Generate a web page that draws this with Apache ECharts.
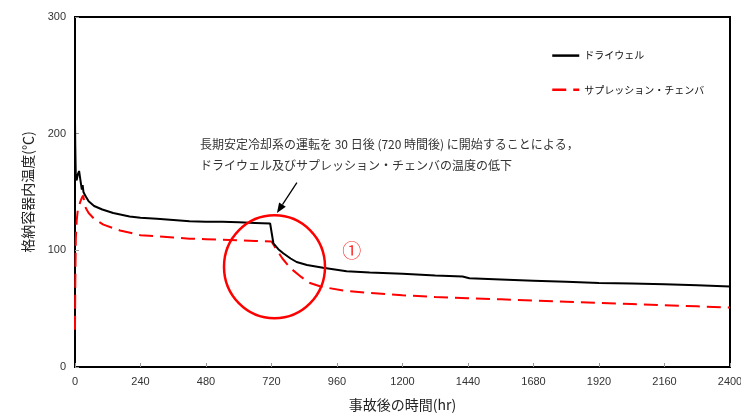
<!DOCTYPE html>
<html>
<head>
<meta charset="utf-8">
<script src="https://cdn.jsdelivr.net/npm/echarts@6/dist/echarts.min.js"></script>
<style>
html,body{margin:0;padding:0;background:#fff;}
#chart{width:741px;height:417px;}
</style>
</head>
<body>
<div id="chart"></div>
<script>
// ---- data ----
const seriesNames = ['ドライウェル', 'サプレッション・チェンバ'];
const dwTime = [0, 1, 3, 6, 10, 15, 20, 25, 28, 31, 35, 40, 50, 70, 100, 140, 200, 240, 300, 360, 420, 480, 540, 600, 660, 715, 721, 727, 745, 763, 790, 812, 850, 909, 995, 1080, 1200, 1320, 1420, 1445, 1560, 1680, 1800, 1920, 2040, 2160, 2280, 2400];
const dwTemp = [211, 190, 162, 160, 165, 168, 160, 152, 156, 150, 148, 146, 142, 138, 135, 132, 129, 128, 127, 126, 125, 124.5, 124.5, 124, 123.5, 123, 122.5, 106, 101, 97.5, 93, 90, 87.5, 85, 82, 81, 80, 78.5, 77.5, 76, 75, 74, 73, 72, 71.5, 71, 70, 69];
const scTime = [0, 1, 3, 6, 10, 15, 20, 25, 30, 35, 40, 50, 70, 104, 140, 165, 240, 300, 360, 420, 480, 540, 600, 660, 720, 732, 760, 788, 830, 861, 900, 982, 1080, 1200, 1320, 1440, 1560, 1680, 1800, 1920, 2040, 2160, 2280, 2400];
const scTemp = [32, 70, 110, 125, 134, 138, 142, 145, 147, 140, 136, 132, 127, 122, 119, 117, 113, 112, 111, 110, 109.5, 109, 108.5, 108, 107.5, 103, 93, 85, 77, 72, 69, 65.5, 63.5, 61.5, 60, 59, 58, 57, 56, 55, 54, 53, 52, 51];
const xTicks = {min: 0, max: 2400, interval: 240};
const yTicks = {min: 0, max: 300, interval: 100};
const noteLines = ['長期安定冷却系の運転を 30 日後 (720 時間後) に開始することによる，', 'ドライウェル及びサプレッション・チェンバの温度の低下'];
const xName = '事故後の時間(hr)';
const yName = '格納容器内温度(℃)';

function zip(a, b) { return a.map((v, i) => [v, b[i]]); }

const chart = echarts.init(document.getElementById('chart'), null, {renderer: 'canvas'});
const sansJP = '"Noto Sans CJK JP", sans-serif';
const option = {
  animation: false,
  backgroundColor: '#fff',
  grid: {left: 75, right: 11, top: 17, bottom: 50, show: true, borderColor: '#000', borderWidth: 2,
         containLabel: false, outerBoundsMode: 'none'},
  legend: {
    orient: 'vertical', left: 551, top: 50, padding: 0, itemWidth: 27, itemHeight: 14, itemGap: 23,
    textStyle: {fontSize: 10, color: '#111', fontFamily: sansJP},
    itemStyle: {opacity: 0, borderWidth: 0},
    lineStyle: {width: 2.5},
    data: seriesNames
  },
  xAxis: {
    type: 'value', min: xTicks.min, max: xTicks.max, interval: xTicks.interval,
    name: xName, nameLocation: 'middle', nameGap: 31,
    nameTextStyle: {fontSize: 14, color: '#222', fontFamily: sansJP},
    axisLine: {show: true, lineStyle: {color: '#000', width: 2}},
    axisTick: {show: true, inside: true, length: 4, lineStyle: {color: '#999'}},
    axisLabel: {fontSize: 11, color: '#333', margin: 9, fontFamily: '"Liberation Sans", Arial', formatter: v => String(v)},
    splitLine: {show: false}
  },
  yAxis: {
    type: 'value', min: yTicks.min, max: yTicks.max, interval: yTicks.interval,
    name: yName, nameLocation: 'middle', nameGap: 40,
    nameTextStyle: {fontSize: 14, color: '#222', fontFamily: sansJP},
    axisLine: {show: true, lineStyle: {color: '#000', width: 2}},
    axisTick: {show: true, inside: true, length: 4, lineStyle: {color: '#999'}},
    axisLabel: {fontSize: 11, color: '#333', margin: 9, fontFamily: '"Liberation Sans", Arial', formatter: v => String(v)},
    splitLine: {show: false}
  },
  series: [
    {name: seriesNames[0], type: 'line', data: zip(dwTime, dwTemp), symbol: 'none', smooth: false,
     lineStyle: {color: '#000', width: 2}, itemStyle: {color: '#000'}, z: 3},
    {name: seriesNames[1], type: 'line', data: zip(scTime, scTemp), symbol: 'none', smooth: false,
     lineStyle: {color: '#ff0000', width: 2, type: [14, 7]}, itemStyle: {color: '#ff0000'}, z: 2}
  ]
};
chart.setOption(option);

// annotations anchored to data coordinates
const P = (x, y) => chart.convertToPixel({gridIndex: 0}, [x, y]);
const ell = P(731, 86);
const tip = P(740, 132);
const tail = P(813, 158);
const note = P(458, 200);
const circ = P(1014, 100);
const ux = tip[0] - tail[0], uy = tip[1] - tail[1];
const L = Math.hypot(ux, uy), nx = ux / L, ny = uy / L;
const hl = 10, hw = 4;
const bx = tip[0] - hl * nx, by = tip[1] - hl * ny;
chart.setOption({
  graphic: [
    {type: 'ellipse', shape: {cx: ell[0], cy: ell[1], rx: 50.5, ry: 51.5},
     style: {fill: 'none', stroke: '#ff0000', lineWidth: 2.5}, z: 10},
    {type: 'line', shape: {x1: tail[0], y1: tail[1], x2: bx, y2: by},
     style: {stroke: '#000', lineWidth: 1.3}, z: 10},
    {type: 'polygon', shape: {points: [[tip[0], tip[1]], [bx + hw * ny, by - hw * nx], [bx - hw * ny, by + hw * nx]]},
     style: {fill: '#000'}, z: 10},
    {type: 'text', left: note[0], top: note[1],
     style: {text: noteLines.join('\n'), fontSize: 12, lineHeight: 21, fill: '#333', fontFamily: sansJP}, z: 10},
    {type: 'text', x: circ[0], y: circ[1],
     style: {text: '①', fontSize: 19, fill: '#ff3030', fontFamily: sansJP, align: 'center', verticalAlign: 'middle'}, z: 10}
  ]
});
</script>
</body>
</html>
